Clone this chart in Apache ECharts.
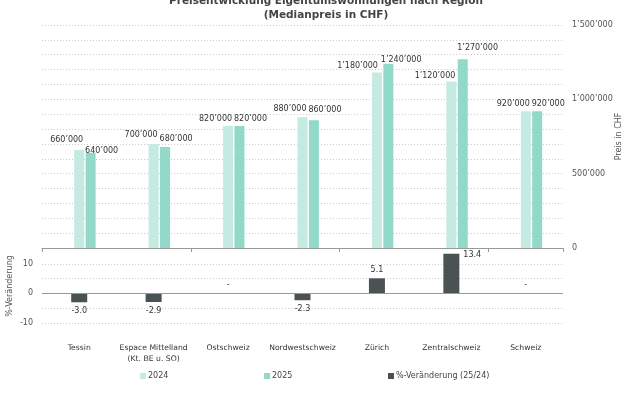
<!DOCTYPE html>
<html><head><meta charset="utf-8">
<script src="https://cdn.jsdelivr.net/npm/echarts@6/dist/echarts.min.js"></script>
<style>html,body{margin:0;padding:0;background:#fff}#c{width:630px;height:412px}</style>
</head><body><div id="c"></div>
<script>
// ---- data ----
const categories = ['Tessin', 'Espace Mittelland\n(Kt. BE u. SO)', 'Ostschweiz', 'Nordwestschweiz', 'Zürich', 'Zentralschweiz', 'Schweiz'];
const price2024 = [660000, 700000, 820000, 880000, 1180000, 1120000, 920000];
const price2025 = [640000, 680000, 820000, 860000, 1240000, 1270000, 920000];
const change = [-3.0, -2.9, 0, -2.3, 5.1, 13.4, 0];
const priceTickLabels = [0, 500000, 1000000, 1500000];
const changeTickLabels = [-10, 0, 10];
const seriesNames = ['2024', '2025', '%-Veränderung (25/24)'];

// ---- label nudges (px; lift: positive = higher, shift: positive = right) ----
const lift2024 = [3, 2, 0, 1, 0, -1, 0];
const lift2025 = [-5, 1, 0, 3, -3, 4, 0];
const shift2024 = [0, 0, 0, 0, -3, 0, 0];
const shift2025 = [0, 0, 0, 0, -2, 0, 0];

const FONT = 'DejaVu Sans';
const fmtK = v => String(Math.round(v)).replace(/\B(?=(\d{3})+(?!\d))/g, '\u2019');

const c2024 = '#c4eae2', c2025 = '#92d9ca', cChg = '#4b5254';

const chart = echarts.init(document.getElementById('c'), null, {renderer: 'canvas'});

const d2024 = price2024.map((v, i) => ({value: v, label: {offset: [4 + shift2024[i], -lift2024[i]]}}));
const d2025 = price2025.map((v, i) => ({value: v, label: {offset: [-5.5 + shift2025[i], -lift2025[i]]}}));
const dChg = change.map(v => {
  if (v < 0) return {value: v, label: {position: 'bottom', distance: 5}};
  if (v > 12) return {value: v, label: {position: [20, -3], align: 'left', verticalAlign: 'top'}};
  return {value: v, label: {position: 'top', distance: 4}};
});

const option = {
  animation: false,
  textStyle: {fontFamily: FONT},
  title: {
    text: 'Preisentwicklung Eigentumswohnungen nach Region\n(Medianpreis in CHF)',
    left: 321, top: -10, textAlign: 'center',
    textStyle: {fontFamily: FONT, fontSize: 10.5, fontWeight: 'bold', color: '#444', lineHeight: 13.5}
  },
  legend: seriesNames.map((n, i) => ({
    data: [n], left: [140, 264, 388][i], top: 372, padding: 0,
    icon: 'rect', itemWidth: 6, itemHeight: 6,
    textStyle: {fontFamily: FONT, fontSize: 8, color: '#444', padding: [0, 0, 0, -3]}
  })),
  grid: [
    {left: 42, right: 67, top: 25, bottom: 164, outerBoundsMode: 'none', containLabel: false},
    {left: 42, right: 67, top: 249, bottom: 89, outerBoundsMode: 'none', containLabel: false}
  ],
  xAxis: [
    {type: 'category', gridIndex: 0, data: categories, position: 'bottom',
     axisLine: {onZero: false, lineStyle: {color: '#999', width: 1}},
     axisTick: {show: true, length: 4, lineStyle: {color: '#999'}},
     axisLabel: {show: false}},
    {type: 'category', gridIndex: 1, data: categories, position: 'bottom',
     axisLine: {show: false, onZero: false}, axisTick: {show: false},
     axisLabel: {margin: 19, fontFamily: FONT, fontSize: 7.7, color: '#333', lineHeight: 11.5, interval: 0}}
  ],
  yAxis: [
    {type: 'value', gridIndex: 0, position: 'right', min: 0, max: 1500000, interval: 100000,
     name: 'Preis in CHF', nameLocation: 'middle', nameGap: 52, nameRotate: 90, nameMoveOverlap: false,
     nameTextStyle: {fontFamily: FONT, fontSize: 8, color: '#555'},
     axisLine: {show: false}, axisTick: {show: false},
     axisLabel: {margin: 9, fontFamily: FONT, fontSize: 8, color: '#555',
       formatter: v => priceTickLabels.includes(v) ? fmtK(v) : ''},
     splitLine: {show: true, showMinLine: false, lineStyle: {color: '#ccc', type: [1, 2], width: 1}}},
    {type: 'value', gridIndex: 1, position: 'left', min: -10, max: 15, interval: 5,
     name: '%-Veränderung', nameLocation: 'middle', nameGap: 28, nameRotate: 90, nameMoveOverlap: false,
     nameTextStyle: {fontFamily: FONT, fontSize: 8, color: '#555'},
     axisLine: {show: false}, axisTick: {show: false},
     axisLabel: {margin: 9, fontFamily: FONT, fontSize: 8, color: '#555',
       formatter: v => changeTickLabels.includes(v) ? String(v) : ''},
     splitLine: {show: true, showMaxLine: false, lineStyle: {color: '#ccc', type: [1, 2], width: 1}}}
  ],
  series: [
    {name: '_pad', type: 'bar', xAxisIndex: 0, yAxisIndex: 0, barWidth: 10, barGap: '14%',
     data: categories.map(() => null), silent: true},
    {name: seriesNames[0], type: 'bar', xAxisIndex: 0, yAxisIndex: 0, barWidth: 10, barGap: '14%',
     itemStyle: {color: c2024}, data: d2024,
     label: {show: true, position: 'top', distance: 3, align: 'right', fontFamily: FONT, fontSize: 8, color: '#333',
       formatter: p => fmtK(p.value)}},
    {name: seriesNames[1], type: 'bar', xAxisIndex: 0, yAxisIndex: 0, barWidth: 10, barGap: '14%',
     itemStyle: {color: c2025}, data: d2025,
     label: {show: true, position: 'top', distance: 3, align: 'left', fontFamily: FONT, fontSize: 8, color: '#333',
       formatter: p => fmtK(p.value)}},
    {name: seriesNames[2], type: 'bar', xAxisIndex: 1, yAxisIndex: 1, barWidth: 16,
     itemStyle: {color: cChg}, data: dChg,
     label: {show: true, fontFamily: FONT, fontSize: 8, color: '#333',
       formatter: p => p.value === 0 ? '-' : p.value.toFixed(1)},
     markLine: {silent: true, symbol: ['none', 'none'], label: {show: false},
       lineStyle: {color: '#999', type: 'solid', width: 1}, data: [{yAxis: 0}]}}
  ]
};
chart.setOption(option);
</script>
</body></html>
